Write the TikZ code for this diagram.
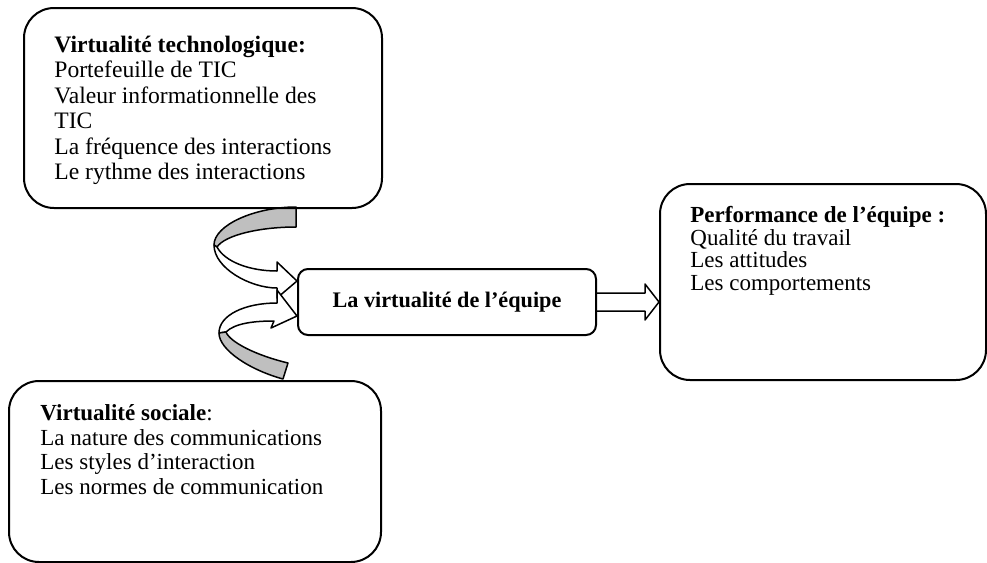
\documentclass[tikz,border=0pt]{standalone}
\usepackage{fontspec}
\setmainfont{Liberation Serif}
\usetikzlibrary{calc}
\begin{document}
\begin{tikzpicture}[x=0.5pt,y=-0.5pt,
  box/.style={draw, line width=1pt, rounded corners=15pt, inner sep=0pt, anchor=north west},
  txt/.style={anchor=base west, inner sep=0pt, font=\fontsize{11.5}{12}\selectfont},
  ribbon/.style={draw, line width=0.75pt, line join=round},
  ]
\useasboundingbox (0,0) rectangle (987,563);
% curved ribbon arrows
\filldraw[ribbon, fill=black!25] (296,207) .. controls (255,207) and (214,225) .. (214,245) -- (217,247) .. controls (225,235) and (260,227) .. (296,227) -- cycle;
\filldraw[ribbon, fill=white] (214,245) .. controls (214,268) and (250,288) .. (277,288) -- (277,298) -- (297,281) -- (277,262) -- (277,271) .. controls (250,271) and (225,262) .. (217,247) -- cycle;
\filldraw[ribbon, fill=white] (277,303) .. controls (245,303) and (219,315) .. (219,333) -- (226,332) .. controls (235,323) and (255,321) .. (274,321) -- (271,328) -- (297,316) -- (277,290) -- cycle;
\filldraw[ribbon, fill=black!25] (219,333) .. controls (219,350) and (250,370) .. (283,379) -- (288,363) .. controls (255,355) and (230,342) .. (226,332) -- cycle;
% boxes
\node[box, minimum width=179pt, minimum height=100pt] (tech) at (23,7) {};
\node[box, rounded corners=5pt, minimum width=149pt, minimum height=33pt, anchor=north west, font=\fontsize{11.1}{12}\selectfont\bfseries] (virt) at (297,268) {La virtualité de l’équipe};
\node[box, minimum width=163pt, minimum height=98pt] (perf) at (659,183) {};
\node[box, minimum width=186pt, minimum height=90.5pt] (soc) at (8,380) {};
% texts
\node[txt, font=\fontsize{11.8}{12}\selectfont] (techtxt) at (54,52) {\vtop{\baselineskip=12.75pt
  \hbox{\bfseries Virtualité technologique:}
  \hbox{Portefeuille de TIC}
  \hbox{Valeur informationnelle des}
  \hbox{TIC}
  \hbox{La fréquence des interactions}
  \hbox{Le rythme des interactions}}};
\node[txt] (perftxt) at (690,222.7) {\vtop{\baselineskip=11.25pt
  \hbox{\bfseries Performance de l’équipe :}
  \hbox{Qualité du travail}
  \hbox{Les attitudes}
  \hbox{Les comportements}}};
\node[txt] (soctxt) at (40,420.7) {\vtop{\baselineskip=12.25pt
  \hbox{\textbf{Virtualité sociale}:}
  \hbox{La nature des communications}
  \hbox{Les styles d’interaction}
  \hbox{Les normes de communication}}};
% straight block arrow
\draw[ribbon] ($(virt.east)+(0,-9)$) -- ++(48,0) -- ++(0,-9) -- (perf.west |- virt.east) -- ($(virt.east)+(48,18)$) -- ++(0,-9) -- ($(virt.east)+(0,9)$);
\end{tikzpicture}
\end{document}
